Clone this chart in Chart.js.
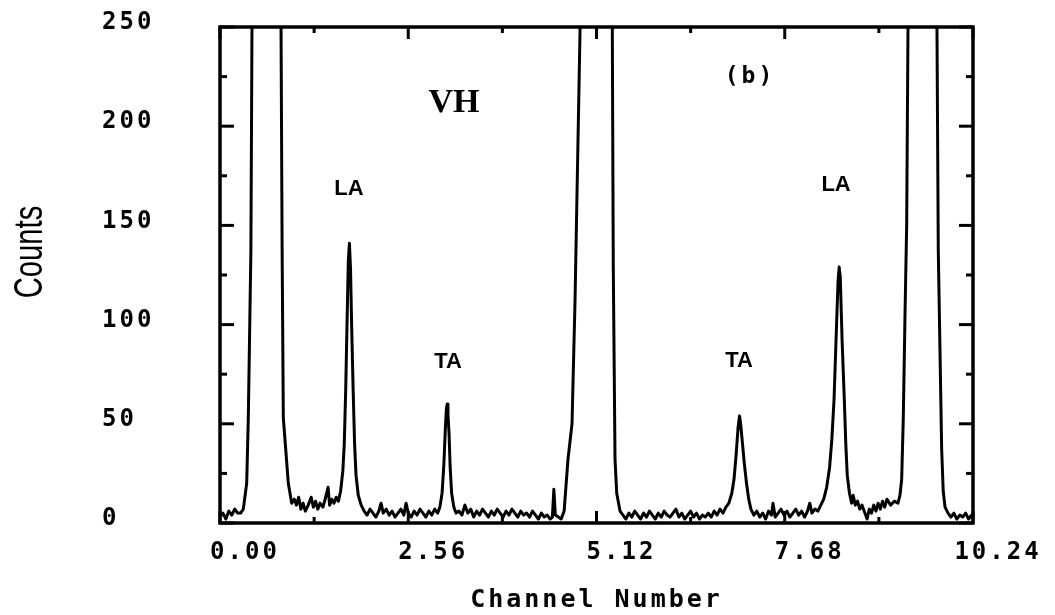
<!DOCTYPE html>
<html>
<head>
<meta charset="utf-8">
<script src="https://cdn.jsdelivr.net/npm/chart.js@4.4.1/dist/chart.umd.min.js"></script>
<style>
html,body{margin:0;padding:0;background:#fff;}
#wrap{width:1055px;height:615px;position:relative;}
</style>
</head>
<body>
<div id="wrap"><canvas id="c" width="1055" height="615"></canvas></div>
<script>
// Channel number (x) and counts (y)
const channel = [
  0.00,0.04,0.08,0.12,0.16,0.20,0.24,0.28,
  0.317,0.363,0.385,0.42,0.435,0.48,0.632,0.79,0.830,0.845,0.861,0.929,0.975,
  1.01,1.04,1.07,1.10,1.13,1.16,1.20,1.24,1.27,1.30,1.33,1.36,1.40,1.43,1.47,1.49,1.52,1.55,1.58,1.61,
  1.64,1.67,1.69,1.71,1.73,1.745,1.76,1.775,1.79,1.81,1.83,1.85,1.88,1.92,
  1.96,2.00,2.04,2.08,2.12,2.16,2.19,2.22,2.26,2.30,2.34,2.38,2.42,2.46,2.50,2.53,2.56,2.60,2.64,2.68,2.72,2.76,2.80,2.84,2.88,2.92,2.96,
  2.99,3.02,3.045,3.065,3.08,3.09,3.10,3.115,3.13,3.15,3.18,3.21,
  3.25,3.29,3.33,3.37,3.41,3.45,3.49,3.53,3.57,3.61,3.65,3.69,3.73,3.77,3.81,3.85,3.89,3.93,3.97,4.01,4.05,4.09,4.13,4.17,4.21,4.25,4.29,4.33,4.37,4.41,4.45,4.49,4.52,4.54,4.56,4.60,4.64,
  4.68,4.692,4.732,4.787,4.828,4.896,4.95,5.113,5.27,5.335,5.348,5.372,5.395,5.44,
  5.48,5.52,5.56,5.60,5.64,5.68,5.72,5.76,5.80,5.84,5.88,5.92,5.96,6.00,6.04,6.08,6.12,6.16,6.20,6.24,6.28,6.32,6.36,6.40,6.44,6.48,6.52,6.56,6.60,6.64,6.68,6.72,6.76,6.80,6.84,6.88,
  6.92,6.96,6.99,7.02,7.045,7.065,7.08,7.10,7.13,7.16,7.19,7.22,
  7.26,7.30,7.34,7.38,7.42,7.46,7.50,7.52,7.55,7.59,7.63,7.67,7.71,7.75,7.79,7.83,7.87,7.91,7.95,7.99,8.02,8.05,8.09,8.13,8.17,
  8.21,8.25,8.29,8.32,8.35,8.38,8.405,8.42,8.435,8.46,8.49,8.51,8.53,8.56,
  8.59,8.61,8.64,8.67,8.70,8.73,8.76,8.80,8.83,8.86,8.89,8.92,8.95,8.98,9.01,9.04,9.07,9.12,9.17,
  9.22,9.247,9.27,9.292,9.315,9.338,9.356,9.40,9.546,9.70,9.75,9.768,9.791,9.814,9.835,9.86,9.90,
  9.94,9.98,10.02,10.06,10.10,10.14,10.18,10.22,10.24
];
const counts = [
  3,5,2,6,4,7,5,5,
  7,20,53,137,250,600,3000,600,250,137,53,20,10,
  12,9,13,7,10,6,9,13,8,11,7,10,8,12,18,9,12,10,13,11,
  16,26,40,68,105,132,141,128,100,68,40,24,14,9,
  6,4,7,5,3,6,10,5,7,4,6,3,5,7,4,10,5,3,6,4,7,5,3,6,4,7,5,
  8,15,30,48,58,60,55,45,28,15,8,5,
  6,4,9,5,7,3,6,4,7,5,3,6,4,7,5,3,6,4,7,5,3,6,4,5,3,6,4,2,5,3,4,2,3,17,4,3,2,
  6,12,32,50,112,248,500,3000,500,250,130,32,15,6,
  4,2,5,3,6,4,2,5,3,6,4,2,5,3,6,4,3,5,7,3,5,2,4,6,3,5,2,4,3,5,3,6,4,7,5,8,
  10,15,22,35,48,54,50,42,30,20,12,7,
  4,6,3,5,2,6,4,10,3,5,7,4,6,3,5,7,4,6,3,6,10,5,7,6,9,
  12,18,28,42,62,95,122,129,124,92,62,40,24,15,
  10,14,9,11,7,9,6,2,7,5,9,6,10,7,11,8,12,9,11,
  10,14,22,53,104,150,250,600,3000,600,250,137,87,37,16,8,5,
  3,5,2,4,3,5,2,4,3
];
const xTickValues = [0, 2.56, 5.12, 7.68, 10.24];
const xTickLabels = ['0.00', '2.56', '5.12', '7.68', '10.24'];
const yTickValues = [0, 50, 100, 150, 200, 250];
const yTickLabels = ['0', '50', '100', '150', '200', '250'];
const noteTexts = ['VH', '(b)', 'LA', 'TA', 'TA', 'LA'];
const xTitle = 'Channel Number';
const yTitle = 'Counts';

const points = channel.map((c, i) => ({x: c, y: counts[i]}));

const framePlugin = {
  id: 'frame',
  beforeUpdate(chart) { chart.ctx.letterSpacing = '3px'; },
  beforeDraw(chart) { chart.ctx.letterSpacing = '3px'; },
  afterDatasetsDraw(chart, args, opts) {
    const {ctx, chartArea: a, scales: {x, y}} = chart;
    ctx.save();
    ctx.strokeStyle = '#000';
    ctx.lineCap = 'butt';
    ctx.lineWidth = 3.5;
    ctx.strokeRect(a.left, a.top, a.right - a.left, a.bottom - a.top);
    ctx.lineWidth = 3;
    const seg = (x1, y1, x2, y2) => { ctx.beginPath(); ctx.moveTo(x1, y1); ctx.lineTo(x2, y2); ctx.stroke(); };
    for (let i = 0; i < yTickValues.length; i++) {
      const py = y.getPixelForValue(yTickValues[i]);
      seg(a.left, py, a.left + 14, py);
      seg(a.right, py, a.right - 14, py);
      if (i < yTickValues.length - 1) {
        const pm = y.getPixelForValue((yTickValues[i] + yTickValues[i + 1]) / 2);
        seg(a.left, pm, a.left + 7, pm);
        seg(a.right, pm, a.right - 7, pm);
      }
    }
    for (let i = 0; i < xTickValues.length; i++) {
      const px = x.getPixelForValue(xTickValues[i]);
      seg(px, a.top, px, a.top + 12);
      seg(px, a.bottom, px, a.bottom - 12);
      if (i < xTickValues.length - 1) {
        const pm = x.getPixelForValue((xTickValues[i] + xTickValues[i + 1]) / 2);
        seg(pm, a.top, pm, a.top + 6);
        seg(pm, a.bottom, pm, a.bottom - 6);
      }
    }
    // annotations
    ctx.fillStyle = '#000';
    ctx.textAlign = 'center';
    ctx.textBaseline = 'middle';
    opts.notes.forEach(n => {
      ctx.font = n.font;
      ctx.letterSpacing = n.ls;
      ctx.fillText(noteTexts[n.i], x.getPixelForValue(n.x) + (n.ls === '0px' ? 0 : 2), y.getPixelForValue(n.y));
    });
    // y axis title
    ctx.letterSpacing = '0px';
    ctx.font = '40px "Liberation Sans"';
    ctx.translate(31, (a.top + a.bottom) / 2 - 23);
    ctx.rotate(-Math.PI / 2);
    ctx.scale(0.73, 1);
    ctx.fillText(yTitle, 0, 0);
    ctx.restore();
  }
};

const monoBold = {family: '"DejaVu Sans Mono"', weight: 'bold', size: 24};

new Chart(document.getElementById('c'), {
  type: 'line',
  data: {
    datasets: [{
      data: points,
      borderColor: '#000',
      borderWidth: 3,
      pointRadius: 0,
      tension: 0,
      fill: false,
      borderJoinStyle: 'round'
    }]
  },
  options: {
    responsive: false,
    devicePixelRatio: 1,
    animation: false,
    events: [],
    layout: {padding: {left: 102, right: 82, top: 27, bottom: 0}},
    plugins: {
      legend: {display: false},
      tooltip: {enabled: false},
      frame: {
        notes: [
          {i: 0, x: 3.182, y: 211.5, font: 'bold 34px "Liberation Serif"', ls: '0px'},
          {i: 1, x: 7.18, y: 224.8, font: 'bold 23px "DejaVu Sans Mono"', ls: '3px'},
          {i: 2, x: 1.754, y: 168.3, font: 'bold 22px "Liberation Sans"', ls: '0px'},
          {i: 3, x: 3.101, y: 81.1, font: 'bold 22px "Liberation Sans"', ls: '0px'},
          {i: 4, x: 7.058, y: 81.7, font: 'bold 22px "Liberation Sans"', ls: '0px'},
          {i: 5, x: 8.378, y: 170.4, font: 'bold 22px "Liberation Sans"', ls: '0px'}
        ]
      }
    },
    scales: {
      x: {
        type: 'linear',
        min: 0,
        max: 10.24,
        afterBuildTicks: s => { s.ticks = xTickValues.map(v => ({value: v})); },
        afterFit: s => { s.height = 92; },
        grid: {display: false, drawTicks: false},
        border: {display: false},
        ticks: {
          autoSkip: false, maxRotation: 0, minRotation: 0,
          padding: 15, labelOffset: 25, color: '#000', font: monoBold,
          callback: (v, i) => xTickLabels[i]
        },
        title: {
          display: true, text: xTitle, color: '#000',
          font: {family: '"DejaVu Sans Mono"', weight: 'bold', size: 25},
          padding: {top: 0, bottom: 0}
        }
      },
      y: {
        min: 0,
        max: 250,
        afterBuildTicks: s => { s.ticks = yTickValues.map(v => ({value: v})); },
        afterFit: s => { s.width = 118; },
        grid: {display: false, drawTicks: false},
        border: {display: false},
        ticks: {
          crossAlign: 'far', labelOffset: -4, color: '#000', font: monoBold,
          callback: (v, i) => yTickLabels[i]
        }
      }
    }
  },
  plugins: [framePlugin]
});
</script>
</body>
</html>
